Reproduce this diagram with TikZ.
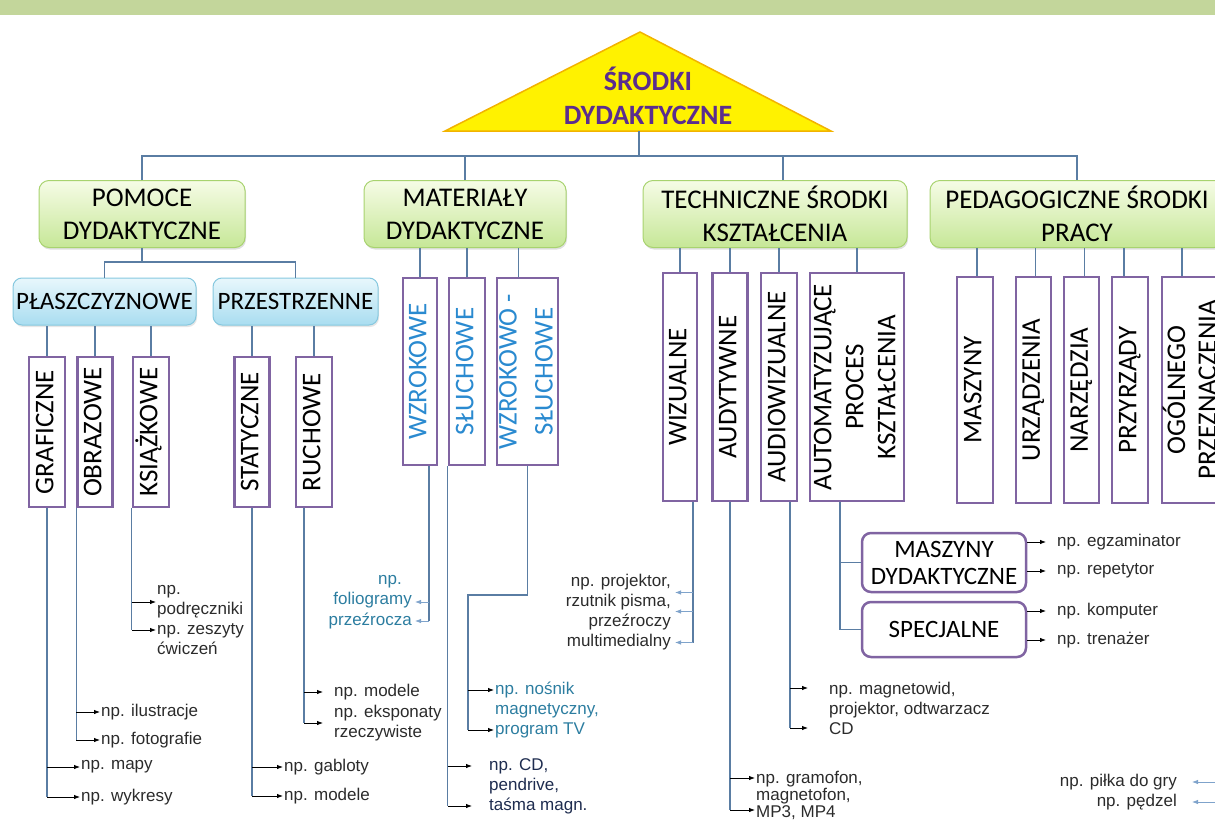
\documentclass[tikz,border=0pt]{standalone}
\usepackage{fontspec}
\setmainfont{Carlito}
\newfontfamily\exfont{Liberation Sans}
\usepackage{graphicx}
\usepackage{tikz}
\usetikzlibrary{shapes, arrows.meta, shadows}

\definecolor{bannerc}{HTML}{C3D69B}
\definecolor{linkc}{HTML}{5A7DA3}
\definecolor{vpurple}{HTML}{8064A2}
\definecolor{catborder}{HTML}{A8D36F}
\definecolor{cattop}{HTML}{F6FCE6}
\definecolor{catbot}{HTML}{C6E797}
\definecolor{subborder}{HTML}{86C8DF}
\definecolor{subtop}{HTML}{E8F7FC}
\definecolor{subbot}{HTML}{A9DDF0}
\definecolor{trifill}{HTML}{FFF200}
\definecolor{triborder}{HTML}{F2B300}
\definecolor{titlec}{HTML}{5B2D8E}
\definecolor{boxblue}{HTML}{2A8AD0}
\definecolor{exgray}{HTML}{2B2B2B}
\definecolor{exteal}{HTML}{2C7DA0}
\definecolor{exnavy}{HTML}{1E2C4F}
\definecolor{arrblue}{HTML}{7FA3CB}

% vertical text inside the tall boxes
\newcommand{\vt}[1]{\smash{\makebox[0pt]{\raisebox{-.5\height}{\rotatebox{90}{\begin{tabular}{@{}c@{}}#1\end{tabular}}}}}}

\begin{document}
\begin{tikzpicture}[x=1pt, y=-1pt,
        title/.style={align=center, text=titlec, font=\bfseries\fontsize{28}{34}\selectfont},
        cat/.style={draw=catborder, line width=1pt, rounded corners=10pt, top color=cattop, bottom color=catbot, align=center, inner sep=0pt, minimum height=67pt, font=\fontsize{27}{33}\selectfont, drop shadow={opacity=0.25, shadow xshift=1pt, shadow yshift=-2pt}},
        sub/.style={draw=subborder, line width=1pt, rounded corners=9pt, top color=subtop, bottom color=subbot, inner sep=0pt, minimum height=47pt, font=\fontsize{25}{30}\selectfont, drop shadow={opacity=0.2, shadow xshift=1pt, shadow yshift=-2pt}},
        vbox/.style={draw=vpurple, line width=2.5pt, fill=white, inner sep=0pt, font=\fontsize{27}{32}\selectfont},
        mbox/.style={draw=vpurple, line width=2.5pt, rounded corners=9pt, fill=white, align=center, inner sep=0pt, font=\fontsize{25}{27}\selectfont},
        ex/.style={font=\exfont\fontsize{17}{20}\selectfont, text=exgray, inner sep=1pt, anchor=west, align=left},
        link/.style={draw=linkc, line width=1.2pt},
        arr/.style={draw=black, -{Latex[length=6pt, width=4.5pt]}, line width=0.8pt},
        barr/.style={draw=arrblue, -{Latex[length=6pt, width=4.5pt]}, line width=0.8pt}
    ]
        \useasboundingbox (0,0) rectangle (1215,822);
        \clip (0,0) rectangle (1215,822);

        % Banner and title
        \fill[bannerc] (0,0) rectangle (1215,15);
        \filldraw[fill=trifill, draw=triborder, line width=1.5pt] (445,131) -- (640,32) -- (831,131) -- cycle;
        \node[title] (title) at (648,96) {ŚRODKI\\DYDAKTYCZNE};
        \coordinate (tribase) at (639,131);
        \coordinate (bus) at (639,156);

        % Main groups
        \node[cat, minimum width=206pt] (pomoce) at (142,214) {POMOCE\\DYDAKTYCZNE};
        \node[cat, minimum width=202pt] (mater) at (465,214) {MATERIAŁY\\DYDAKTYCZNE};
        \node[cat, minimum width=264pt] (techn) at (775,214) {TECHNICZNE ŚRODKI\\KSZTAŁCENIA};
        \node[cat, minimum width=294pt] (pedag) at (1077,214) {PEDAGOGICZNE ŚRODKI\\PRACY};
        \coordinate (technTop) at ([xshift=8pt]techn.north);
        \draw[link] (tribase) -- (bus);
        \draw[link] (pomoce.north) |- (bus) -| (pedag.north);
        \draw[link] (mater.north) -- (mater.north |- bus);
        \draw[link] (technTop) -- (technTop |- bus);

        % POMOCE DYDAKTYCZNE
        \node[sub, minimum width=183pt] (plasz) at (104.5,301.5) {PŁASZCZYZNOWE};
        \node[sub, minimum width=165pt] (przes) at (295.5,301.5) {PRZESTRZENNE};
        \coordinate (pbus) at (142,262);
        \draw[link] (pomoce.south) -- (pbus);
        \draw[link] (plasz.north) |- (pbus) -| (przes.north);

        \node[vbox, minimum width=36pt, minimum height=150pt] (graf) at (47,432) {\vt{GRAFICZNE}};
        \node[vbox, minimum width=35pt, minimum height=150pt] (obraz) at (95,432) {\vt{OBRAZOWE}};
        \node[vbox, minimum width=36pt, minimum height=150pt] (ksiaz) at (151,432) {\vt{KSIĄŻKOWE}};
        \node[vbox, minimum width=35pt, minimum height=150pt] (stat) at (252,432) {\vt{STATYCZNE}};
        \node[vbox, minimum width=36pt, minimum height=150pt] (ruch) at (314,432) {\vt{RUCHOWE}};
        \foreach \b/\p in {graf/plasz, obraz/plasz, ksiaz/plasz, stat/przes, ruch/przes}
            \draw[link] (\b.north) -- (\b.north |- \p.south);

        \node[ex] (mapy) at (80,767) {np. mapy};
        \node[ex] (wykresy) at (80,797) {np. wykresy};
        \draw[link] (graf.south) -- (graf.south |- wykresy.west);
        \foreach \t in {mapy, wykresy}
            \draw[arr] (graf.south |- \t.west) -- (\t.west);

        \node[ex] (ilustr) at (100,712) {np. ilustracje};
        \node[ex] (fotog) at (100,740) {np. fotografie};
        \draw[link] (obraz.south west) -- (obraz.south west |- fotog.west);
        \foreach \t in {ilustr, fotog}
            \draw[arr] (obraz.south west |- \t.west) -- (\t.west);

        \node[ex] (podr) at (156,602) {np.\\podręczniki};
        \node[ex] (zesz) at (156,639) {np. zeszyty\\ćwiczeń};
        \coordinate (zeszIn) at ([yshift=9pt]zesz.west);
        \draw[link] (ksiaz.south west) -- (ksiaz.south west |- zeszIn);
        \foreach \t in {podr.west, zeszIn}
            \draw[arr] (ksiaz.south west |- \t) -- (\t);

        \node[ex] (gabl) at (283,767) {np. gabloty};
        \node[ex] (model1) at (283,796) {np. modele};
        \draw[link] (stat.south) -- (stat.south |- model1.west);
        \foreach \t in {gabl, model1}
            \draw[arr] (stat.south |- \t.west) -- (\t.west);

        \node[ex] (model2) at (333,692) {np. modele};
        \node[ex] (ekspo) at (333,723) {np. eksponaty\\rzeczywiste};
        \coordinate (ruchL) at ([xshift=-10pt]ruch.south);
        \draw[link] (ruchL) -- (ruchL |- ekspo.west);
        \foreach \t in {model2, ekspo}
            \draw[arr, shorten >=10pt] (ruchL |- \t.west) -- (\t.west);

        % MATERIAŁY DYDAKTYCZNE
        \node[vbox, text=boxblue, minimum width=34pt, minimum height=187pt] (wzrok) at (420,371.5) {\vt{WZROKOWE}};
        \node[vbox, text=boxblue, minimum width=36pt, minimum height=187pt] (sluch) at (467,371.5) {\vt{SŁUCHOWE}};
        \node[vbox, text=boxblue, minimum width=61pt, minimum height=187pt, font=\fontsize{27}{36}\selectfont] (wzsl) at (527.5,371.5) {\vt{WZROKOWO -\\SŁUCHOWE}};
        \coordinate (wzslTop) at ([xshift=-9pt]wzsl.north);
        \foreach \b in {wzrok, sluch}
            \draw[link] (\b.north) -- (\b.north |- mater.south);
        \draw[link] (wzslTop) -- (wzslTop |- mater.south);

        \node[ex, text=exteal, anchor=east, align=right] (folio) at (413,592) {np.\hspace*{10pt}\\foliogramy};
        \node[ex, text=exteal, anchor=east] (przezr) at (413,621) {przeźrocza};
        \coordinate (wzrokR) at ([xshift=9pt]wzrok.south);
        \coordinate (folioIn) at ([yshift=-10pt]folio.east);
        \draw[link] (wzrokR) -- (wzrokR |- przezr.east);
        \foreach \t in {folioIn, przezr.east}
            \draw[barr, shorten >=2pt] (wzrokR |- \t) -- (\t);

        \node[ex, text=exnavy] (cdpen) at (488,786) {np. CD,\\pendrive,\\taśma magn.};
        \coordinate (cdA) at ([yshift=20pt]cdpen.west);
        \coordinate (cdB) at ([yshift=-20pt]cdpen.west);
        \draw[link] (sluch.south west) -- (sluch.south west |- cdB);
        \foreach \t in {cdA, cdB}
            \draw[arr, shorten >=16pt] (sluch.south west |- \t) -- (\t);

        \node[ex, text=exteal] (nosnik) at (494,710) {np. nośnik\\magnetyczny,\\program TV};
        \coordinate (wzbend) at (468,595);
        \coordinate (noA) at ([yshift=20pt]nosnik.west);
        \coordinate (noB) at ([yshift=-20pt]nosnik.west);
        \draw[link] (wzsl.south) |- (wzbend) -- (wzbend |- noB);
        \foreach \t in {noA, noB}
            \draw[arr] (wzbend |- \t) -- (\t);

        % TECHNICZNE ŚRODKI KSZTAŁCENIA
        \node[vbox, minimum width=34pt, minimum height=228pt] (wiz) at (680,387) {\vt{WIZUALNE}};
        \node[vbox, minimum width=35pt, minimum height=228pt] (aud) at (730,387) {\vt{AUDYTYWNE}};
        \node[vbox, minimum width=36pt, minimum height=228pt] (audw) at (779,387) {\vt{AUDIOWIZUALNE}};
        \node[vbox, minimum width=94pt, minimum height=228pt] (automat) at (857,387) {\vt{AUTOMATYZUJĄCE\\PROCES\\KSZTAŁCENIA}};
        \foreach \b in {wiz, aud, audw, automat}
            \draw[link] (\b.north) -- (\b.north |- techn.south);

        \node[ex, anchor=east, align=right] (proj) at (672,612.5) {np. projektor,\\rzutnik pisma,\\przeźroczy\\multimedialny};
        \coordinate (prA) at ([yshift=20pt]proj.east);
        \coordinate (prB) at ([yshift=1pt]proj.east);
        \coordinate (prC) at ([yshift=-30pt]proj.east);
        \coordinate (wizR) at ([xshift=13pt]wiz.south);
        \draw[link] (wizR) -- (wizR |- prC);
        \foreach \t in {prA, prB, prC}
            \draw[barr, shorten >=3pt] (wizR |- \t) -- (\t);

        \node[ex, font=\exfont\fontsize{17}{17}\selectfont] (gramo) at (755,795) {np. gramofon,\\magnetofon,\\MP3, MP4};
        \coordinate (grA) at ([yshift=17pt]gramo.west);
        \coordinate (grB) at ([yshift=-15pt]gramo.west);
        \draw[link] (aud.south) -- (aud.south |- grB);
        \foreach \t in {grA, grB}
            \draw[arr] (aud.south |- \t) -- (\t);

        \node[ex] (magvid) at (828,708) {np. magnetowid,\\projektor, odtwarzacz\\CD};
        \coordinate (mvA) at ([yshift=20pt]magvid.west);
        \coordinate (mvB) at ([yshift=-20pt]magvid.west);
        \coordinate (audwR) at ([xshift=11pt]audw.south);
        \draw[link] (audwR) -- (audwR |- mvB);
        \foreach \t in {mvA, mvB}
            \draw[arr, shorten >=20pt] (audwR |- \t) -- (\t);

        \node[mbox, minimum width=164pt, minimum height=59pt] (mdyd) at (944,562.5) {MASZYNY\\DYDAKTYCZNE};
        \node[mbox, minimum width=164pt, minimum height=55pt] (spec) at (944,629.5) {SPECJALNE};
        \coordinate (autoL) at ([xshift=-17pt]automat.south);
        \draw[link] (autoL) |- (spec.west);
        \draw[link] (autoL |- mdyd.west) -- (mdyd.west);

        \node[ex] (egz) at (1056,542) {np. egzaminator};
        \node[ex] (rep) at (1056,571) {np. repetytor};
        \node[ex] (komp) at (1056,611) {np. komputer};
        \node[ex] (tren) at (1056,640) {np. trenażer};
        \foreach \t in {egz, rep}
            \draw[arr, shorten >=10pt] (mdyd.east |- \t.west) -- (\t.west);
        \foreach \t in {komp, tren}
            \draw[arr, shorten >=10pt] (spec.east |- \t.west) -- (\t.west);

        % PEDAGOGICZNE ŚRODKI PRACY
        \node[vbox, minimum width=36pt, minimum height=226pt] (maszyny) at (975,390) {\vt{MASZYNY}};
        \node[vbox, minimum width=35pt, minimum height=226pt] (urz) at (1033.5,390) {\vt{URZĄDZENIA}};
        \node[vbox, minimum width=35pt, minimum height=226pt] (narz) at (1081.5,390) {\vt{NARZĘDZIA}};
        \node[vbox, minimum width=36pt, minimum height=226pt] (przyrz) at (1130,390) {\vt{PRZYRZĄDY}};
        \node[vbox, minimum width=64pt, minimum height=226pt, font=\fontsize{27}{31}\selectfont] (ogol) at (1194,390) {\vt{OGÓLNEGO\\PRZEZNACZENIA}};
        \foreach \b/\s in {maszyny/2, urz/2, narz/3, przyrz/-6, ogol/-12} {
            \coordinate (top) at ([xshift=\s pt]\b.north);
            \draw[link] (top) -- (top |- pedag.south);
        }

        \node[ex, anchor=east] (pilka) at (1178,782) {np. piłka do gry};
        \node[ex, anchor=east] (pedzel) at (1178,802) {np. pędzel};
        \coordinate (edgeA) at (1215,782);
        \coordinate (edgeB) at (1215,802);
        \draw[barr, shorten >=14pt] (edgeA) -- (pilka.east);
        \draw[barr, shorten >=14pt] (edgeB) -- (pedzel.east);

    \end{tikzpicture}
\end{document}
